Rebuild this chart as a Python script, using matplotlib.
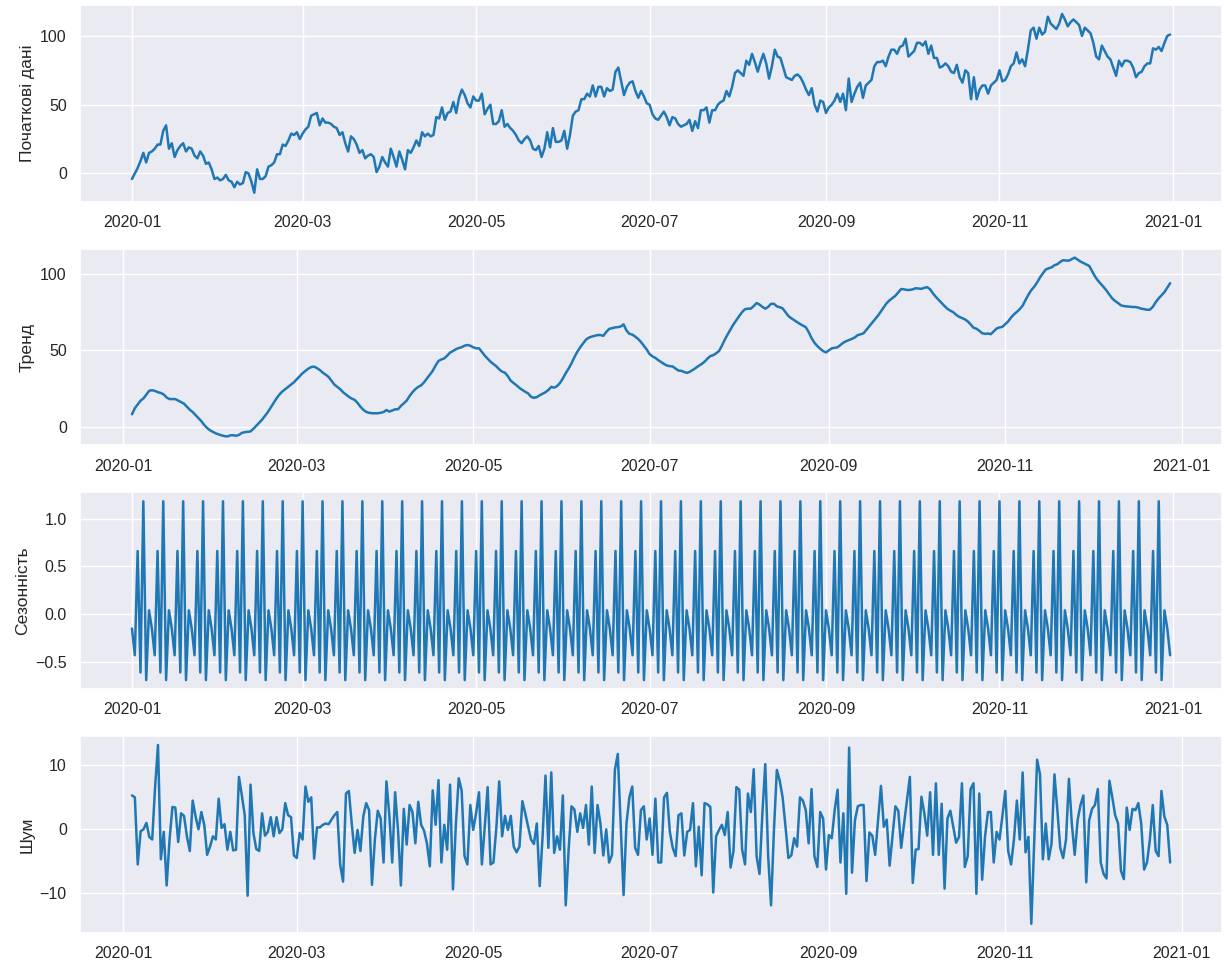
import numpy as np
import pandas as pd
import matplotlib
matplotlib.use('Agg')
import matplotlib.pyplot as plt
import matplotlib.dates as mdates
from matplotlib.ticker import MultipleLocator
import seaborn as sns

# daily series, 2020 (leap year)
dates = pd.date_range('2020-01-01', '2020-12-31', freq='D')

observed = [
    -4, 0, 4, 9, 15, 8, 15, 16, 18, 21,
    21, 31, 35, 18, 22, 12, 17, 20, 22, 16,
    19, 18, 13, 11, 16, 13, 7, 8, 3, -4,
    -3, -5, -4, -1, -5, -6, -10, -6, -8, -7,
    1, 0, -6, -14, 3, -4, -4, -2, 5, 6,
    8, 14, 14, 21, 20, 24, 29, 28, 30, 25,
    29, 32, 34, 42, 43, 44, 35, 40, 37, 37,
    36, 34, 33, 28, 30, 22, 16, 27, 25, 21,
    15, 17, 11, 13, 14, 12, 1, 5, 12, 8,
    5, 18, 12, 5, 16, 10, 3, 17, 15, 19,
    24, 20, 30, 27, 29, 27, 28, 41, 40, 48,
    39, 44, 45, 52, 44, 55, 61, 57, 51, 48,
    56, 53, 53, 58, 43, 47, 50, 36, 36, 38,
    46, 34, 36, 33, 31, 28, 24, 22, 25, 27,
    24, 18, 17, 20, 12, 18, 30, 19, 33, 23,
    23, 24, 31, 18, 28, 42, 45, 46, 54, 54,
    58, 56, 64, 56, 63, 63, 56, 62, 60, 61,
    74, 77, 67, 57, 63, 66, 67, 60, 55, 60,
    56, 51, 50, 43, 40, 39, 42, 45, 41, 35,
    41, 40, 36, 34, 35, 36, 39, 31, 38, 33,
    46, 46, 48, 37, 46, 46, 50, 52, 53, 60,
    56, 63, 73, 75, 73, 71, 82, 79, 87, 81,
    74, 81, 87, 80, 69, 78, 90, 85, 84, 77,
    70, 69, 68, 71, 72, 70, 66, 61, 57, 62,
    50, 45, 53, 52, 44, 48, 50, 53, 58, 52,
    58, 46, 69, 52, 58, 63, 66, 55, 64, 66,
    68, 78, 81, 81, 82, 78, 85, 90, 90, 87,
    92, 93, 98, 85, 87, 89, 95, 95, 93, 96,
    87, 93, 84, 84, 77, 78, 80, 78, 74, 73,
    79, 70, 66, 75, 73, 54, 70, 54, 61, 64,
    64, 58, 64, 66, 68, 75, 67, 68, 72, 78,
    80, 88, 80, 83, 78, 90, 104, 106, 98, 106,
    101, 103, 114, 109, 107, 105, 109, 116, 112, 107,
    110, 112, 110, 108, 100, 106, 104, 102, 95, 85,
    83, 93, 89, 85, 83, 77, 71, 82, 78, 82,
    82, 81, 77, 70, 73, 74, 78, 80, 80, 91,
    90, 92, 89, 95, 100, 101,
]

# trend and noise exist from 2020-01-04 to 2020-12-28
trend = [
    8, 12, 14.5, 17, 18.5, 21, 23.5, 23.8, 23.3, 22.5,
    22, 21, 19, 18, 18, 18, 17, 16, 15, 13,
    11, 9.5, 7.5, 5.5, 3.5, 1, -1, -2.5, -3.5, -4.5,
    -5.2, -5.8, -6.3, -6.5, -5.8, -5.7, -6.1, -5.5, -4.2, -3.7,
    -3.5, -3.2, -1.5, 0.5, 2.5, 4.5, 7, 9.5, 12.5, 15.5,
    18.5, 21, 23, 24.5, 26, 27.5, 29, 31, 33, 35,
    36.5, 38, 39, 39.3, 38.3, 37, 35.3, 34, 32.5, 30,
    27.5, 26, 24.5, 22.5, 21, 19.5, 18.3, 17.5, 15.5, 13,
    11, 9.6, 9, 8.7, 8.7, 8.7, 9, 9.5, 10.8, 9.8,
    10.5, 11.3, 11.3, 13.5, 15.2, 17, 20, 22.5, 24.5, 26,
    27, 29, 31.5, 34, 36.5, 40, 43, 44, 44.7, 46.5,
    48.5, 49.5, 50.7, 51.5, 52, 53, 53.5, 53, 52, 51.3,
    51.3, 49, 46.5, 44.5, 42.5, 41, 39.5, 37.5, 36, 35.3,
    33, 30, 28.5, 27, 25.3, 24, 22.8, 21.7, 19.5, 18.8,
    19.3, 20.5, 21.5, 22.5, 24, 26, 25.5, 26.5, 28.5, 31.5,
    35, 38, 41.5, 45.5, 49, 52, 54.5, 57, 58.3, 59,
    59.5, 60, 60, 59.5, 62, 64, 64.5, 65, 65.2, 65.6,
    67, 63, 60.8, 60.3, 59, 57.5, 55.5, 53, 50.5, 47.5,
    46, 45, 43.5, 42.3, 41, 40, 39.6, 39.4, 38, 36.7,
    36.5, 35.7, 35.2, 36, 37.2, 38.5, 39.8, 41, 42.5, 44.5,
    46.2, 46.8, 48, 49.5, 53, 57, 60.5, 63.8, 67, 69.8,
    72.5, 75.1, 77, 77.3, 77.3, 79, 81, 80, 78.5, 77.3,
    78.5, 80.5, 80.5, 78.8, 78.3, 77.5, 75, 72.5, 71, 69.8,
    68.5, 67.3, 66.2, 65.2, 62, 58, 55, 52.8, 51, 49.5,
    48.6, 50, 51.3, 51.6, 52, 53.5, 55, 56, 56.8, 57.5,
    58.5, 60, 60.5, 61.2, 63.5, 65.7, 68, 70.3, 72.8, 75.5,
    78.3, 81, 82.8, 84.3, 85.8, 88, 90.2, 90, 89.6, 89.6,
    90, 90.7, 90.5, 90.3, 91, 91.4, 90, 87.3, 85, 83,
    81, 79, 77.2, 76, 75, 73.3, 72, 71.2, 70.3, 69,
    67, 64.8, 64.2, 62.8, 61.2, 60.8, 61, 60.6, 62.5, 64.3,
    65, 65.4, 67.2, 69, 71.5, 73.6, 75.2, 77, 79.3, 83,
    86.5, 89.5, 91.7, 94.5, 97.8, 100.5, 103, 103.8, 104.4, 105.8,
    106.5, 108, 109.1, 108.9, 108.8, 109.8, 110.8, 109.5, 108.2, 107.3,
    106.3, 105.4, 102, 98.5, 95.8, 93.7, 91.5, 89.2, 86.5, 84,
    82.3, 81, 79.5, 79, 78.8, 78.6, 78.4, 78.4, 78, 77.3,
    77, 76.6, 76.6, 78.5, 81.5, 84, 86, 88.1, 91, 94,
]

# weekly seasonal profile (period 7), starting 2020-01-01
season_week = [-0.15, -0.43, 0.66, -0.61, 1.18, -0.69, 0.04]

resid = [
    5.3, 5.0, -5.5, -0.3, 0, 1, -1.2, -1.6, 6.6, 13.2,
    -4.7, -0.4, -8.8, -1.6, 3.5, 3.4, -2, 2.5, 2.1, -1.1,
    -3.4, 4.5, 2, 0, 2.7, 0.7, -4, -2.7, -1.1, -1.6,
    4.8, 0.2, 0.8, -3.2, -0.4, -3.3, -3.2, 8.2, 5.3, 2.2,
    -10.4, 7, -0.6, -3.1, -3.4, 2.5, -1, -0.4, 1.9, -1.1,
    1.9, -0.6, 0, 4.1, 2.2, 1.9, -4.1, -4.5, -0.6, -1.6,
    6.7, 4.3, 5.0, -4.6, 0.3, 0.3, 0.7, 0.9, 0.8, 1.5,
    2.2, 2.7, -5.5, -8.2, 5.6, 6, 0.9, -3.7, -0.1, -3.4,
    2, 4.1, 3, -8.7, -1.6, 2.9, 1.7, -5.2, 7.5, 2.2,
    -5.2, 5.8, -0.1, -8.8, 3.2, -2.4, 3.8, 2.7, -2.2, 4.3,
    0.7, -0.2, -2.2, -5.8, 6.1, 0.7, 7.7, -5.2, 0.7, -3.2,
    7, -9.4, 0.7, 8, 6.1, -4.2, -5.5, 3.8, -0.1, 2.5,
    5.8, -5.5, 0.4, 6.6, -5.5, -5.2, 0.2, 7.5, -1.1, 2.1,
    -0.1, 2.1, -2.7, -3.6, -2.7, 4.4, 2.5, 0.4, -1.6, -2.3,
    0.9, -8.9, -1.1, 8.4, -2.9, 8.9, -3.7, -1.1, -3.2, 5.3,
    -11.9, -3.2, 3.6, 3.1, -0.4, 2.5, 0.2, 3.8, -2.4, 6.7,
    -3.7, 3.8, 0.9, -4.1, 0, -5.2, -4, 9.3, 11.8, 0.9,
    -10.3, 0.9, 5.0, 6.7, -2.9, -4, 3, 3.6, -1.6, 1.7,
    -4, 4.8, -5.2, -5.2, 5.0, 5.7, -0.4, -2.9, -4.2, 2.2,
    2.5, -4.1, -0.4, -0.1, 4.1, -5.8, 0.4, -7.2, 4.1, 3.9,
    3.5, -9.9, -1.1, -0.1, 0.7, -0.9, 2.7, -6, -3.4, 6.6,
    6.2, -3.2, -5.5, 5.6, 2.7, 9.4, -4.2, -7, 2.5, 10.2,
    -4.2, -11.9, -0.1, 9.3, 7.6, 5.0, 0.4, -4.5, -4.1, -1.4,
    -2.7, 5.0, 4.5, 3, -2.2, 6.3, -4.2, -5.9, 2.7, 1.7,
    -6.3, -0.9, -1.4, 3, 6.2, -5.2, 2.5, -10.1, 12.8, -6.8,
    1.4, 3.6, 3.8, 3.8, -8.1, -0.5, -1, -4, 1.4, 6.8,
    0.4, 1.5, -5.7, -1, 3.6, 2.9, -2.9, 0.9, 4.5, 8.2,
    -8.4, -3.2, -3.1, 5.1, 2.5, -1, 5.8, -4, 7.2, -4,
    4, -9.3, 1.7, 2.9, 0.4, -2.1, -1.2, 7.2, -5.9, -4.2,
    6.3, 7.2, -10.1, 5.6, -7.9, -1.1, 2.7, 2.7, -5.2, -0.4,
    -1.6, 2.1, 6, -3.4, -5.5, -1.6, 4.5, -1.6, 8.9, -3.6,
    -1.2, -14.8, -1.9, 10.9, 8.6, -4.7, 0.9, -4.7, -2.2, 8.6,
    3, -2.9, -4.5, -1.6, 7.9, 0.9, -4, 1.4, 3.8, 5.3,
    -8.3, 1.4, 3.2, 3.8, 6.3, -5.2, -7, -7.7, 7.6, 5,
    2.2, 0.9, -6.5, -7.8, 3.4, -0.1, 3.2, 3, 4.1, 0.9,
    -6.3, -5.2, -1.6, 3.8, -3.4, -4.2, 6, 2, 0.7, -5.2,
]

labels = ['Початкові дані', 'Тренд', 'Сезонність', 'Шум']
steps = [50, 50, 0.5, 10]

sns.set_theme(style='darkgrid', font_scale=1.05)
plt.rcParams['font.family'] = ['Liberation Sans', 'DejaVu Sans']

seasonal = np.resize(season_week, len(dates))
trend_dates = dates[3:-3]
panels = [(dates, observed), (trend_dates, trend), (dates, seasonal), (trend_dates, resid)]

fig, axes = plt.subplots(4, 1, figsize=(12.24, 9.6), dpi=100)
fig.subplots_adjust(left=0.0654, right=0.9984, top=0.9948, bottom=0.0284, hspace=0.239)

for ax, (x, y), label, step in zip(axes, panels, labels, steps):
    ax.plot(x, y, color='#1f77b4', linewidth=1.8)
    ax.set_ylabel(label)
    ax.yaxis.set_major_locator(MultipleLocator(step))
    ax.xaxis.set_major_locator(mdates.MonthLocator(bymonth=[1, 3, 5, 7, 9, 11]))
    ax.xaxis.set_major_formatter(mdates.DateFormatter('%Y-%m'))

fig.savefig('out.png', dpi=100)
